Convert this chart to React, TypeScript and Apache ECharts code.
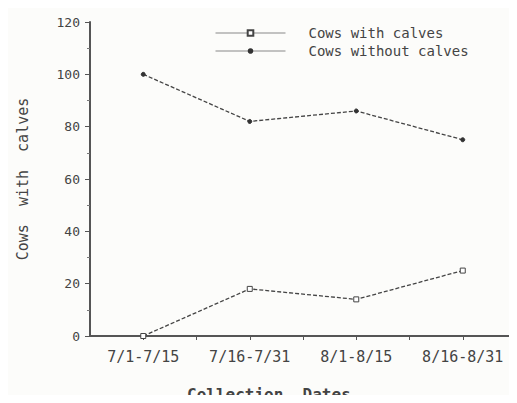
import React, { useEffect, useRef } from "react";
import * as echarts from "echarts";

const categories = ["7/1-7/15", "7/16-7/31", "8/1-8/15", "8/16-8/31"];
const withCalves = [0, 18, 14, 25];
const withoutCalves = [100, 82, 86, 75];
const seriesNames = ["Cows with calves", "Cows without calves"];
const yTicks = [0, 20, 40, 60, 80, 100, 120];

export default function App() {
  const ref = useRef<HTMLDivElement>(null);
  useEffect(() => {
    const chart = echarts.init(ref.current!, null, { renderer: "svg" });
    const font = "'DejaVu Sans Mono', 'Liberation Mono', monospace";
    const ink = "#444";
    chart.setOption({
      animation: false,
      backgroundColor: "#fcfcfa",
      textStyle: { fontFamily: font, color: ink },
      grid: { left: 90, top: 22, right: 1, bottom: 67, containLabel: false },
      legend: {
        orient: "vertical",
        left: 210,
        top: 21,
        itemGap: 4,
        itemWidth: 70,
        itemHeight: 7,
        textStyle: { fontSize: 14, color: ink, fontFamily: font, padding: [0, 0, 0, 18] },
        lineStyle: { type: "solid", width: 1, color: "#888" },
        data: seriesNames,
      },
      xAxis: {
        type: "value",
        min: 0.5,
        max: 4.5,
        interval: 0.5,
        splitLine: { show: false },
        axisLine: { lineStyle: { color: "#555", width: 2 } },
        axisTick: { show: true, length: 4, inside: false, lineStyle: { color: "#555" } },
        axisLabel: {
          fontSize: 15,
          color: ink,
          fontFamily: font,
          margin: 13,
          showMinLabel: false,
          showMaxLabel: false,
          formatter: (v: number) =>
            Number.isInteger(v) && v >= 1 && v <= categories.length ? categories[v - 1] : "",
        },
      },
      yAxis: {
        type: "value",
        min: yTicks[0],
        max: yTicks[yTicks.length - 1],
        interval: 20,
        name: "Cows  with  calves",
        nameLocation: "middle",
        nameGap: 60,
        nameTextStyle: { fontSize: 15, color: ink, fontFamily: font },
        splitLine: { show: false },
        axisLine: { show: true, lineStyle: { color: "#555", width: 2 } },
        axisTick: { show: true, length: 5, lineStyle: { color: "#555" } },
        minorTick: { show: true, splitNumber: 2, length: 3, lineStyle: { color: "#777" } },
        axisLabel: { fontSize: 13, color: ink, fontFamily: font, margin: 10 },
      },
      graphic: [
        {
          type: "text",
          left: 187,
          top: 386,
          style: { text: "Collection  Dates", font: `bold 16px ${font}`, fill: ink },
        },
      ],
      series: [
        {
          name: seriesNames[0],
          type: "line",
          data: withCalves.map((v, i) => [i + 1, v]),
          symbol: "rect",
          symbolSize: 5,
          itemStyle: { color: "#fff", borderColor: "#444", borderWidth: 1 },
          lineStyle: { type: [4, 2], width: 1.3, color: "#444" },
        },
        {
          name: seriesNames[1],
          type: "line",
          data: withoutCalves.map((v, i) => [i + 1, v]),
          symbol: "circle",
          symbolSize: 4,
          itemStyle: { color: "#333", borderColor: "#333" },
          lineStyle: { type: [4, 2], width: 1.3, color: "#444" },
        },
      ],
    });
    return () => chart.dispose();
  }, []);
  return <div ref={ref} style={{ width: 517, height: 403, margin: -8 }} />;
}
